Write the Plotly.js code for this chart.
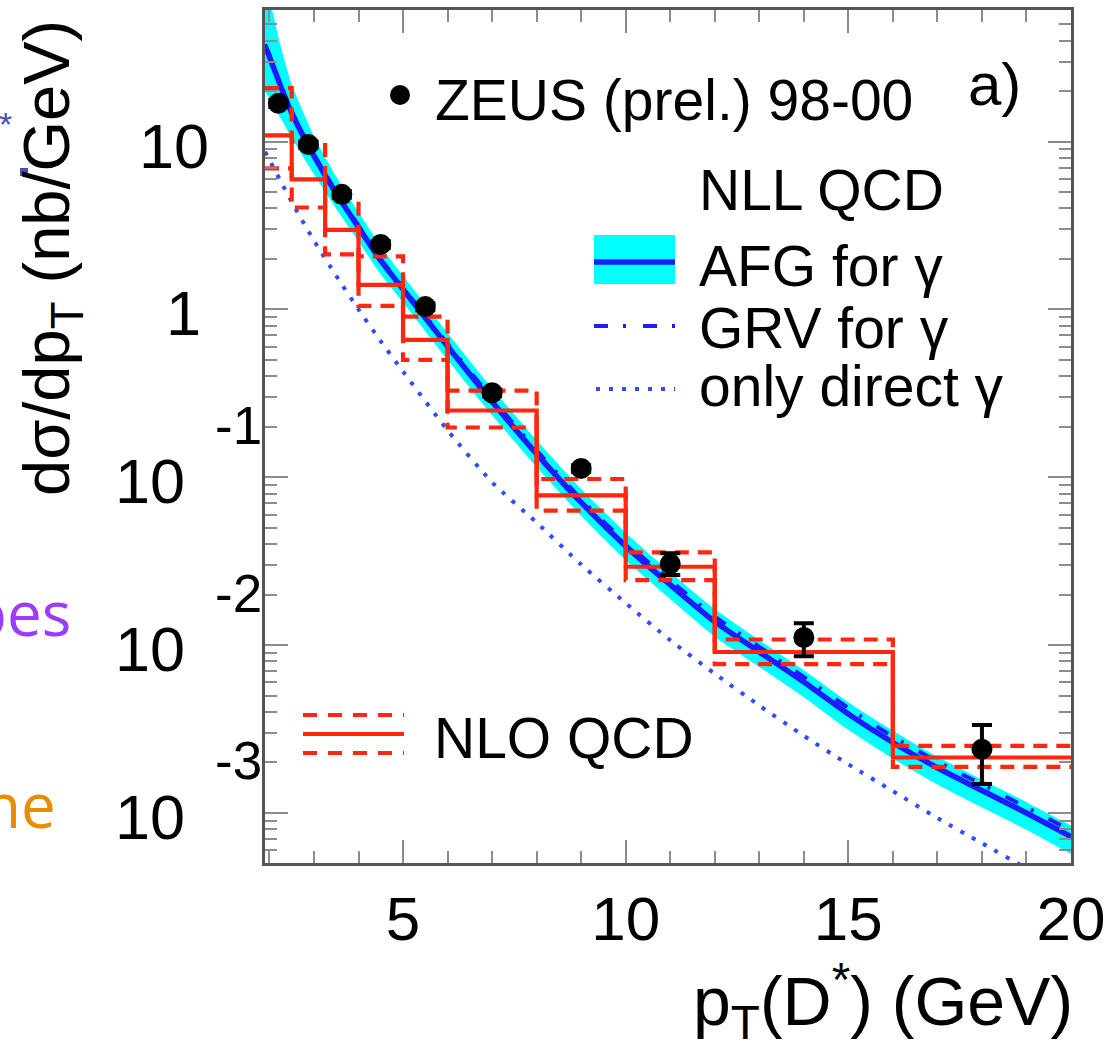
<!DOCTYPE html>
<html><head><meta charset="utf-8">
<script src="https://cdn.plot.ly/plotly-3.0.1.min.js"></script>
<style>body{margin:0;background:#fff}</style>
</head><body>
<div id="chart" style="width:1117px;height:1053px"></div>
<script>
// ---------------- data ----------------
const zeusPt = [2.2, 2.875, 3.625, 4.5, 5.5, 7, 9, 11, 14, 18];
const zeusXsec = [16.9, 9.6, 4.85, 2.44, 1.04, 0.319, 0.113, 0.0305, 0.0111, 0.0024];
const zeusErrUp = [0.8, 0.45, 0.22, 0.11, 0.05, 0.015, 0.005, 0.0048, 0.0024, 0.00094];
const zeusErrDown = [0.8, 0.45, 0.22, 0.11, 0.05, 0.015, 0.005, 0.0043, 0.0025, 0.00091];

const binEdges = [1.9, 2.5, 3.25, 4, 5, 6, 8, 10, 12, 16, 20];
const nloCentral = [10.9, 5.95, 2.98, 1.40, 0.658, 0.250, 0.078, 0.0293, 0.0091, 0.00214];
const nloUpper = [20.8, 10.0, 4.4, 2.07, 0.905, 0.328, 0.0977, 0.0357, 0.0108, 0.00251];
const nloLower = [6.93, 4.05, 2.13, 1.05, 0.50, 0.198, 0.0633, 0.0244, 0.0077, 0.00188];

const curvePt = [1.9, 2, 2.25, 2.5, 3, 3.5, 4, 4.5, 5, 6, 7, 8, 9, 10, 11, 12, 13, 14, 15, 16, 17, 18, 19, 20];
const afgCentral = [37.2, 32.0, 21.4, 14.8, 8.22, 4.90, 3.09, 1.95, 1.32, 0.603, 0.282, 0.138, 0.0708, 0.0389, 0.0229, 0.0138, 0.00912, 0.00603, 0.00389, 0.00263, 0.00186, 0.00136, 0.00100, 0.000724];
const afgUpper = [93.3, 71.6, 37.2, 21.9, 10.8, 6.17, 3.80, 2.37, 1.585, 0.724, 0.339, 0.166, 0.0851, 0.0468, 0.0272, 0.0164, 0.0107, 0.00708, 0.00457, 0.00309, 0.00216, 0.00158, 0.00116, 0.000841];
const afgLower = [19.95, 18.0, 13.8, 10.5, 6.38, 3.98, 2.54, 1.62, 1.10, 0.501, 0.234, 0.115, 0.0589, 0.0320, 0.0188, 0.0112, 0.00741, 0.00490, 0.00313, 0.00211, 0.00148, 0.00108, 0.000794, 0.000569];
const grvCentral = [38.0, 32.7, 21.9, 15.1, 8.41, 5.01, 3.16, 2.0, 1.35, 0.624, 0.295, 0.1445, 0.0741, 0.0407, 0.0243, 0.0148, 0.00977, 0.00646, 0.00422, 0.00285, 0.00202, 0.00148, 0.00108, 0.000785];
const directOnly = [8.71, 7.76, 5.82, 4.37, 2.57, 1.585, 1.0, 0.646, 0.427, 0.1905, 0.0933, 0.0537, 0.0302, 0.0178, 0.0107, 0.00676, 0.00437, 0.00288, 0.00195, 0.00135, 0.000933, 0.000661, 0.000468, 0.000339];

const xTickVals = [5, 10, 15, 20];
const yTickVals = [10, 1, 0.1, 0.01, 0.001];
const yTickBase = ['10', '1', '10', '10', '10'];
const yTickExp = ['', '', '-1', '-2', '-3'];

// ---------------- styling helpers ----------------
const FONT = 'Liberation Sans, Arial, Helvetica, sans-serif';
const L = 265, R = 1071, T = 10, B = 863;
const px = x => (x - L) / (R - L);
const py = y => (B - y) / (B - T);
const RED = '#ff2710', BLUE = '#1c1cff', DOTBLUE = '#2f4dff', CYAN = '#00ffff';
const stepY = arr => arr.concat([arr[arr.length - 1]]);

const traces = [
  {x: curvePt, y: afgLower, mode: 'lines', line: {width: 0, shape: 'spline', smoothing: 0.6}, hoverinfo: 'skip'},
  {x: curvePt, y: afgUpper, mode: 'lines', fill: 'tonexty', fillcolor: CYAN, line: {width: 0, shape: 'spline', smoothing: 0.6}, hoverinfo: 'skip'},
  {x: curvePt, y: afgCentral, mode: 'lines', line: {color: BLUE, width: 5.5, shape: 'spline', smoothing: 0.6}},
  {x: curvePt, y: grvCentral, mode: 'lines', line: {color: BLUE, width: 4, shape: 'spline', smoothing: 0.6, dash: '14px,15px,3px,17px'}},
  {x: curvePt, y: directOnly, mode: 'lines', line: {color: DOTBLUE, width: 4, shape: 'spline', smoothing: 0.6, dash: '4px,9px'}},
  {x: binEdges, y: stepY(nloUpper), mode: 'lines', line: {color: RED, width: 4.2, shape: 'hv', dash: '14px,9px'}},
  {x: binEdges, y: stepY(nloLower), mode: 'lines', line: {color: RED, width: 4.2, shape: 'hv', dash: '14px,9px'}},
  {x: binEdges, y: stepY(nloCentral), mode: 'lines', line: {color: RED, width: 4.2, shape: 'hv'}},
  {x: zeusPt, y: zeusXsec, mode: 'markers', marker: {color: '#000', size: 21},
   error_y: {type: 'data', symmetric: false, array: zeusErrUp, arrayminus: zeusErrDown, color: '#000', thickness: 4, width: 10}}
];

const annotations = [];
const txt = (x, y, text, opts = {}) => annotations.push(Object.assign({
  xref: 'paper', yref: 'paper', x: px(x), y: py(y), text: text, showarrow: false,
  xanchor: 'left', yanchor: 'middle', font: {family: FONT, size: 57, color: '#000'}
}, opts));

// y tick labels
yTickVals.forEach((v, i) => {
  const hasExp = yTickExp[i] !== '';
  annotations.push({xref: 'paper', yref: 'y', x: px(hasExp ? 187 : (yTickBase[i] === '1' ? 203 : 211)), y: Math.log10(v),
    text: yTickBase[i], showarrow: false, xanchor: 'right', yanchor: 'middle', yshift: -4,
    font: {family: FONT, size: 63, color: '#000'}});
  if (hasExp) annotations.push({xref: 'paper', yref: 'y', x: px(213), y: Math.log10(v),
    text: yTickExp[i], showarrow: false, xanchor: 'left', yanchor: 'middle', yshift: 52,
    font: {family: FONT, size: 53, color: '#000'}});
});

// legend texts
txt(433, 100, 'ZEUS (prel.) 98-00');
txt(697, 190, 'NLL QCD');
txt(697, 266, 'AFG for γ');
txt(697, 328, 'GRV for γ');
txt(697, 386, 'only direct γ');
txt(432, 738, 'NLO QCD');
txt(966, 84, 'a)', {font: {family: FONT, size: 60, color: '#000'}});
// axis titles
txt(1075, 1001, 'p<sub>T</sub>(D<sup>*</sup>) (GeV)', {xanchor: 'right', font: {family: FONT, size: 68, color: '#000'}});
annotations.push({xref: 'paper', yref: 'paper', x: px(51), y: py(258), text: 'dσ/dp<sub>T</sub> (nb/GeV)', textangle: -90,
  showarrow: false, xanchor: 'center', yanchor: 'middle', font: {family: FONT, size: 65, color: '#000'}});
// stray fragments at the left edge of the picture
txt(73, 612, 'pes', {xanchor: 'right', font: {family: 'Open Sans, sans-serif', size: 62, color: '#9a3dff'}});
txt(58, 804, 'ne', {xanchor: 'right', font: {family: 'Open Sans, sans-serif', size: 62, color: '#e98c00'}});
txt(-3, 124, '*', {font: {family: FONT, size: 34, color: '#4a4ab8'}});

const shapes = [
  {type: 'circle', xref: 'paper', yref: 'paper', x0: px(390), x1: px(410), y0: py(105), y1: py(85), fillcolor: '#000', line: {width: 0}},
  {type: 'rect', xref: 'paper', yref: 'paper', x0: px(594), x1: px(675), y0: py(284), y1: py(235), fillcolor: CYAN, line: {width: 0}},
  {type: 'line', xref: 'paper', yref: 'paper', x0: px(594), x1: px(675), y0: py(262), y1: py(262), line: {color: BLUE, width: 5.5}},
  {type: 'line', xref: 'paper', yref: 'paper', x0: px(594), x1: px(675), y0: py(326), y1: py(326), line: {color: BLUE, width: 4, dash: '14px,15px,3px,17px'}},
  {type: 'line', xref: 'paper', yref: 'paper', x0: px(596), x1: px(675), y0: py(389), y1: py(389), line: {color: DOTBLUE, width: 4, dash: '4px,9px'}},
  {type: 'line', xref: 'paper', yref: 'paper', x0: px(303), x1: px(404), y0: py(715), y1: py(715), line: {color: RED, width: 4.2, dash: '14px,11px'}},
  {type: 'line', xref: 'paper', yref: 'paper', x0: px(303), x1: px(404), y0: py(734), y1: py(734), line: {color: RED, width: 4.2}},
  {type: 'line', xref: 'paper', yref: 'paper', x0: px(303), x1: px(404), y0: py(753), y1: py(753), line: {color: RED, width: 4.2, dash: '14px,11px'}},
  {type: 'rect', xref: 'paper', yref: 'paper', x0: px(20), x1: px(28), y0: py(176), y1: py(168), fillcolor: '#4a4ab8', line: {width: 0}}
];

const axisCommon = {
  ticks: 'inside', ticklen: 23, tickwidth: 2, tickcolor: '#8c8c8c',
  showline: true, linecolor: '#555', linewidth: 3, mirror: 'allticks',
  showgrid: false, zeroline: false
};

const layout = {
  width: 1117, height: 1053,
  margin: {l: L, r: 1117 - R, t: T, b: 1053 - B},
  paper_bgcolor: '#fff', plot_bgcolor: '#fff', showlegend: false,
  xaxis: Object.assign({}, axisCommon, {
    range: [1.9, 20], tickmode: 'array', tickvals: xTickVals,
    tickfont: {family: FONT, size: 62, color: '#000'},
    minor: {dtick: 1, tick0: 0, ticks: 'inside', ticklen: 12, tickwidth: 2, tickcolor: '#8c8c8c', showgrid: false}
  }),
  yaxis: Object.assign({}, axisCommon, {
    type: 'log', range: [-3.298, 1.784], tickmode: 'array', tickvals: yTickVals, showticklabels: false,
    minor: {dtick: 'D1', ticks: 'inside', ticklen: 12, tickwidth: 2, tickcolor: '#8c8c8c', showgrid: false}
  }),
  annotations: annotations, shapes: shapes
};

Plotly.newPlot('chart', traces, layout, {displayModeBar: false, staticPlot: true});
</script>
</body></html>
